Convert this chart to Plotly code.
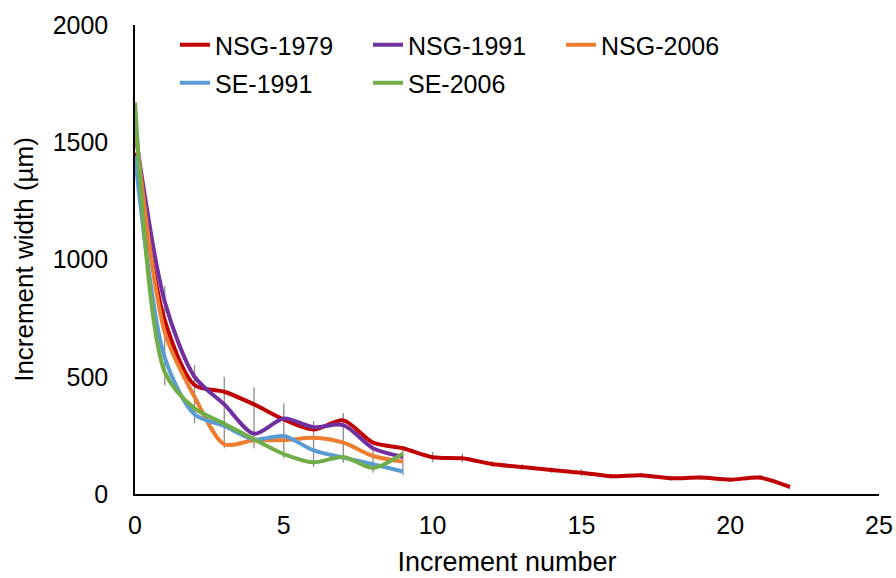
import plotly.graph_objects as go

# ---- data ----
x_long = list(range(0, 23))
x_short = list(range(0, 10))

nsg_1979 = [1455, 740, 465, 436, 382, 318, 275, 314, 219, 195, 157, 152, 128, 115, 102, 91, 76, 80, 67, 70, 61, 70, 30]
nsg_1991 = [1550, 820, 500, 382, 257, 322, 285, 294, 195, 158]
nsg_2006 = [1580, 690, 415, 212, 229, 229, 240, 219, 162, 138]
se_1991 = [1440, 580, 340, 290, 233, 247, 186, 155, 127, 96]
se_2006 = [1670, 520, 365, 300, 233, 170, 135, 158, 111, 172]

# error range (low / high) per increment
err_low = [1455, 464, 302, 195, 195, 152, 115, 133, 91, 81, 136, 134, 116, 103, 90, 76, 66, 70, 57, 60, 51, 60, 20]
err_high = [1455, 887, 550, 500, 455, 387, 311, 345, 195, 205, 179, 172, 140, 127, 114, 106, 86, 90, 77, 80, 71, 80, 40]

series = [
    ("NSG-1979", x_long, nsg_1979, "#C00000", "legend"),
    ("NSG-1991", x_short, nsg_1991, "#7030A0", "legend"),
    ("NSG-2006", x_short, nsg_2006, "#ED7D31", "legend"),
    ("SE-1991", x_short, se_1991, "#5B9BD5", "legend2"),
    ("SE-2006", x_short, se_2006, "#70AD47", "legend2"),
]

FONT = "Liberation Sans, Arial, sans-serif"

fig = go.Figure()

centers = [(a + b) / 2 for a, b in zip(err_low, err_high)]
halves = [(b - a) / 2 for a, b in zip(err_low, err_high)]
fig.add_trace(go.Scatter(
    x=x_long, y=centers, mode="markers",
    marker=dict(size=1, opacity=0),
    error_y=dict(type="data", array=halves, symmetric=True, color="#8C8C8C", thickness=1.3, width=0),
    showlegend=False, hoverinfo="skip",
))

for name, xs, ys, col, lg in series:
    fig.add_trace(go.Scatter(
        x=xs, y=ys, mode="lines", name=name,
        line=dict(color=col, width=4, shape="spline", smoothing=0.8),
        legend=lg,
    ))

PLOT_L, PLOT_T, PLOT_W, PLOT_H = 135, 25, 744, 469

leg_common = dict(
    orientation="h", xref="paper", yref="paper",
    xanchor="left", yanchor="top",
    font=dict(family=FONT, size=25, color="#000000"),
    entrywidth=148, entrywidthmode="pixels",
    bgcolor="rgba(0,0,0,0)", itemwidth=30, tracegroupgap=0,
)

fig.update_layout(
    width=896, height=578,
    margin=dict(l=135, r=17, t=25, b=84, autoexpand=False),
    paper_bgcolor="white", plot_bgcolor="white",
    font=dict(family=FONT, size=25, color="#000000"),
    legend=dict(x=(175 - PLOT_L) / PLOT_W, y=1 - (22 - PLOT_T) / PLOT_H, **leg_common),
    legend2=dict(x=(175 - PLOT_L) / PLOT_W, y=1 - (60 - PLOT_T) / PLOT_H, **leg_common),
    xaxis=dict(
        range=[0, 25], tickvals=[0, 5, 10, 15, 20, 25],
        showline=True, linecolor="#000000", linewidth=2,
        showgrid=False, zeroline=False, ticks="",
        ticklabelstandoff=8,
        tickfont=dict(family=FONT, size=25),
        title=dict(text="Increment number", font=dict(family=FONT, size=27), standoff=14),
    ),
    yaxis=dict(
        range=[0, 2000], tickvals=[0, 500, 1000, 1500, 2000],
        showline=True, linecolor="#000000", linewidth=1.5,
        showgrid=False, zeroline=False, ticks="",
        ticklabelstandoff=20,
        tickfont=dict(family=FONT, size=25),
        title=dict(text="Increment width (µm)", font=dict(family=FONT, size=26), standoff=12),
    ),
)

fig.write_html("out.html")
